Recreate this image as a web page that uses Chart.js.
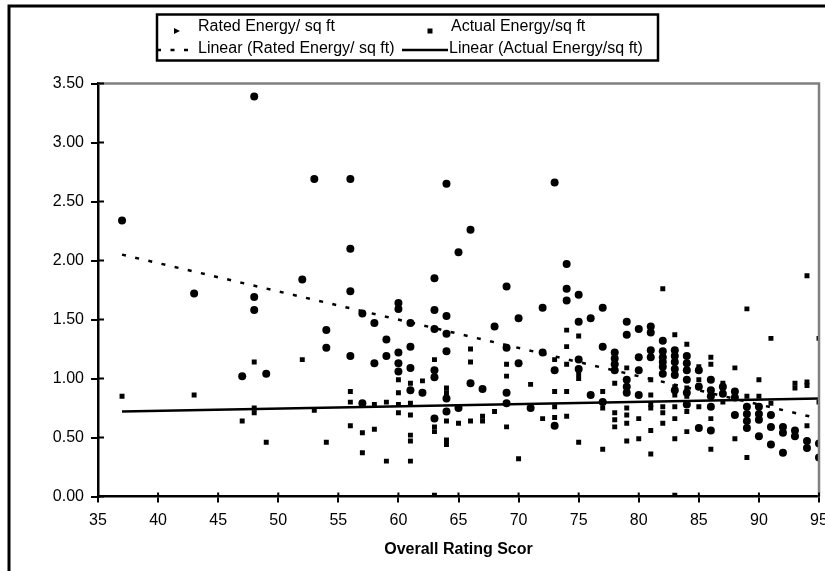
<!DOCTYPE html>
<html>
<head>
<meta charset="utf-8">
<title>Energy vs Overall Rating</title>
<script src="https://cdn.jsdelivr.net/npm/chart.js@4.4.1/dist/chart.umd.min.js"></script>
<style>
  html, body { margin: 0; padding: 0; background: #fff; }
  #wrap { width: 825px; height: 571px; position: relative; }
</style>
</head>
<body>
<div id="wrap"><canvas id="energyChart"></canvas></div>
<script>
// --- data ---
const ratedScore = [
  37, 43, 47, 48, 48, 48, 49, 52, 53, 54, 54,
  56, 56, 56, 56, 57, 57, 58, 58, 59, 59,
  60, 60, 60, 60, 60, 61, 61, 61, 61, 62,
  63, 63, 63, 63, 63, 63, 64, 64, 64, 64, 64, 64,
  65, 65, 66, 66, 67, 68, 69, 69, 69, 69, 70, 70, 71,
  72, 72, 73, 73, 73, 74, 74, 74, 75, 75, 75, 75,
  76, 76, 77, 77, 77, 78, 78, 78, 78,
  79, 79, 79, 79, 79, 80, 80, 80, 80, 81, 81, 81, 81,
  82, 82, 82, 82, 82, 82, 83, 83, 83, 83, 83, 83,
  84, 84, 84, 84, 84, 84, 85, 85, 85, 86, 86, 86, 86, 86,
  87, 87, 88, 88, 88, 89, 89, 89, 89, 90, 90, 90, 90,
  91, 91, 91, 92, 92, 92, 93, 93, 94, 94, 95, 95
];
const ratedEnergy = [
  2.34, 1.72, 1.02, 3.39, 1.69, 1.58, 1.04, 1.84, 2.69, 1.41, 1.26,
  2.69, 2.10, 1.74, 1.19, 1.55, 0.79, 1.47, 1.13, 1.33, 1.19,
  1.64, 1.59, 1.22, 1.13, 1.06, 1.47, 1.27, 1.09, 0.90, 0.88,
  1.85, 1.58, 1.42, 1.07, 1.01, 0.66, 2.65, 1.53, 1.38, 1.23, 0.83, 0.72,
  2.07, 0.75, 2.26, 0.96, 0.91, 1.44, 1.78, 1.26, 0.88, 0.79, 1.51, 1.13, 0.75,
  1.60, 1.22, 2.66, 1.07, 0.60, 1.97, 1.76, 1.66, 1.71, 1.48, 1.16, 1.08,
  1.51, 0.86, 1.60, 1.27, 0.80, 1.22, 1.17, 1.12, 1.07,
  1.48, 1.37, 0.99, 0.93, 0.88, 1.42, 1.18, 1.07, 0.86, 1.44, 1.39, 1.24, 1.18,
  1.32, 1.23, 1.18, 1.14, 1.10, 1.04, 1.24, 1.19, 1.14, 1.08, 1.03, 0.90,
  1.19, 1.13, 1.07, 0.99, 0.88, 0.78, 1.07, 0.93, 0.58, 0.99, 0.90, 0.85, 0.76, 0.56,
  0.93, 0.87, 0.89, 0.84, 0.69, 0.76, 0.70, 0.64, 0.58, 0.76, 0.70, 0.65, 0.51,
  0.69, 0.59, 0.44, 0.59, 0.54, 0.37, 0.56, 0.51, 0.47, 0.41, 0.45, 0.33
];

const actualScore = [
  37, 43, 47, 48, 48, 48, 49, 52, 53, 54,
  56, 56, 56, 57, 57, 58, 58, 59, 59,
  60, 60, 60, 60, 61, 61, 61, 61, 61, 61, 62,
  63, 63, 63, 63, 63, 64, 64, 64, 64, 64, 65,
  66, 66, 66, 67, 67, 68, 69, 69, 69, 70, 71, 72,
  73, 73, 73, 73, 74, 74, 74, 74, 74, 75, 75, 75, 75,
  77, 77, 77, 78, 78, 78, 78, 79, 79, 79, 79, 79, 80, 80,
  81, 81, 81, 81, 81, 81, 82, 82, 82, 82,
  83, 83, 83, 83, 83, 83, 83, 84, 84, 84, 84, 84,
  85, 85, 85, 85, 86, 86, 86, 86, 87, 87, 87, 88, 88,
  89, 89, 89, 90, 90, 91, 91, 93, 93, 94, 94, 94, 94, 95, 95
];
const actualEnergy = [
  0.85, 0.86, 0.64, 1.14, 0.75, 0.71, 0.46, 1.16, 0.73, 0.46,
  0.89, 0.80, 0.60, 0.54, 0.37, 0.78, 0.57, 0.80, 0.30,
  0.99, 0.88, 0.78, 0.71, 0.96, 0.79, 0.69, 0.52, 0.47, 0.30, 0.98,
  1.16, 1.02, 0.59, 0.55, 0.01, 0.92, 0.88, 0.64, 0.48, 0.44, 0.62,
  1.25, 1.14, 0.64, 0.68, 0.64, 0.72, 1.12, 1.02, 0.59, 0.32, 0.95, 0.66,
  1.16, 0.89, 0.76, 0.67, 1.41, 1.27, 1.12, 0.89, 0.68, 1.36, 1.04, 1.00, 0.46,
  0.89, 0.75, 0.40, 0.96, 0.71, 0.65, 0.59, 1.09, 0.75, 0.69, 0.62, 0.47, 0.66, 0.49,
  0.99, 0.86, 0.78, 0.75, 0.56, 0.36, 1.76, 0.76, 0.71, 0.62,
  1.37, 0.93, 0.86, 0.76, 0.66, 0.49, 0.01, 1.29, 0.92, 0.85, 0.72, 0.55,
  1.10, 0.99, 0.94, 0.76, 1.18, 1.12, 0.66, 0.40, 0.96, 0.89, 0.80, 1.09, 0.49,
  1.59, 0.85, 0.33, 0.99, 0.85, 1.34, 0.79, 0.96, 0.92, 1.87, 0.97, 0.94, 0.60, 1.34, 0.80
];

// linear trend lines (end points as drawn in the picture)
const trendScore = [37, 95];
const ratedTrend = [2.05, 0.66];
const actualTrend = [0.72, 0.83];

const xTicks = [35, 40, 45, 50, 55, 60, 65, 70, 75, 80, 85, 90, 95];
const yTicks = [0, 0.5, 1, 1.5, 2, 2.5, 3, 3.5];

const pairs = (xs, ys) => xs.map((x, i) => ({ x, y: ys[i] }));

Chart.defaults.font.family = '"Liberation Sans", Arial, sans-serif';
Chart.defaults.color = '#000';

// --- frame, cross ticks, grey plot border and boxed legend ---
const excelLook = {
  id: 'excelLook',
  beforeDraw(chart) {
    const ctx = chart.ctx;
    ctx.save();
    ctx.fillStyle = '#fff';
    ctx.fillRect(0, 0, chart.width, chart.height);
    ctx.restore();
  },
  afterDraw(chart) {
    const { ctx, chartArea: a, scales } = chart;
    ctx.save();

    // grey top / right edge of the plot area
    ctx.strokeStyle = '#808080';
    ctx.lineWidth = 2.5;
    ctx.beginPath();
    ctx.moveTo(a.left, a.top);
    ctx.lineTo(a.right, a.top);
    ctx.lineTo(a.right, a.bottom);
    ctx.stroke();

    // inner half of the cross ticks
    ctx.strokeStyle = '#000';
    ctx.lineWidth = 2;
    ctx.beginPath();
    yTicks.forEach(v => {
      const py = scales.y.getPixelForValue(v);
      ctx.moveTo(a.left, py);
      ctx.lineTo(a.left + 6, py);
    });
    xTicks.forEach(v => {
      const px = scales.x.getPixelForValue(v);
      ctx.moveTo(px, a.bottom);
      ctx.lineTo(px, a.bottom - 4);
    });
    ctx.stroke();

    // outer chart frame (only top and left visible)
    ctx.lineWidth = 3;
    ctx.beginPath();
    ctx.moveTo(9, chart.height);
    ctx.lineTo(9, 6);
    ctx.lineTo(chart.width, 6);
    ctx.stroke();

    // legend box
    const ds = chart.data.datasets;
    ctx.lineWidth = 2.5;
    ctx.strokeRect(157, 14.5, 501, 46);

    ctx.font = '16px "Liberation Sans", Arial, sans-serif';
    ctx.fillStyle = '#000';
    ctx.textBaseline = 'middle';
    ctx.textAlign = 'left';

    // rated marker (small right-pointing triangle)
    ctx.beginPath();
    ctx.moveTo(174, 28);
    ctx.lineTo(180, 31);
    ctx.lineTo(174, 34);
    ctx.closePath();
    ctx.fill();
    ctx.fillText(ds[2].label, 198, 27);

    // actual marker (small square)
    ctx.fillRect(427.5, 28.5, 5, 5);
    ctx.fillText(ds[3].label, 451, 27);

    // dashed rated trend sample
    ctx.lineWidth = 2.5;
    ctx.setLineDash(ds[0].borderDash);
    ctx.beginPath();
    ctx.moveTo(157, 50);
    ctx.lineTo(195, 50);
    ctx.stroke();
    ctx.setLineDash([]);
    ctx.fillText(ds[0].label, 198, 49);

    // solid actual trend sample
    ctx.beginPath();
    ctx.moveTo(402, 50);
    ctx.lineTo(448, 50);
    ctx.stroke();
    ctx.fillText(ds[1].label, 449, 49);

    ctx.restore();
  }
};

new Chart(document.getElementById('energyChart'), {
  type: 'scatter',
  data: {
    datasets: [
      {
        label: 'Linear (Rated Energy/ sq ft)',
        data: pairs(trendScore, ratedTrend),
        showLine: true,
        borderColor: '#000',
        borderWidth: 2.5,
        borderDash: [4, 9.5],
        pointRadius: 0,
        clip: 0
      },
      {
        label: 'Linear (Actual Energy/sq ft)',
        data: pairs(trendScore, actualTrend),
        showLine: true,
        borderColor: '#000',
        borderWidth: 2.5,
        pointRadius: 0,
        clip: 0
      },
      {
        label: 'Rated Energy/ sq ft',
        data: pairs(ratedScore, ratedEnergy),
        pointStyle: 'circle',
        pointRadius: 4,
        pointHoverRadius: 4,
        backgroundColor: '#000',
        borderWidth: 0,
        clip: 0
      },
      {
        label: 'Actual Energy/sq ft',
        data: pairs(actualScore, actualEnergy),
        pointStyle: 'rect',
        pointRadius: 3.5,
        pointHoverRadius: 3.5,
        backgroundColor: '#000',
        borderWidth: 0,
        clip: 0
      }
    ]
  },
  options: {
    responsive: true,
    maintainAspectRatio: false,
    animation: false,
    events: [],
    layout: { padding: { left: 10, right: 6, top: 83.5, bottom: 10 } },
    plugins: {
      legend: { display: false },
      tooltip: { enabled: false }
    },
    scales: {
      x: {
        type: 'linear',
        min: 35,
        max: 95,
        afterBuildTicks: s => { s.ticks = xTicks.map(v => ({ value: v })); },
        afterFit: s => { s.height = 64.5; s.paddingLeft = 0; s.paddingRight = 0; },
        ticks: {
          font: { size: 16 },
          padding: 8,
          maxRotation: 0,
          callback: v => String(v)
        },
        grid: {
          drawOnChartArea: false,
          drawTicks: true,
          tickLength: 6,
          color: '#000',
          lineWidth: 2
        },
        border: { display: true, color: '#000', width: 2.5 },
        title: {
          display: true,
          text: 'Overall Rating Scor',
          font: { size: 16, weight: 'bold' },
          padding: { top: 6, bottom: 2 }
        }
      },
      y: {
        min: 0,
        max: 3.5,
        afterBuildTicks: s => { s.ticks = yTicks.map(v => ({ value: v })); },
        afterFit: s => { s.width = 88; },
        ticks: {
          font: { size: 16 },
          padding: 7,
          callback: v => v.toFixed(2)
        },
        grid: {
          drawOnChartArea: false,
          drawTicks: true,
          tickLength: 7,
          color: '#000',
          lineWidth: 2
        },
        border: { display: true, color: '#000', width: 2.5 }
      }
    }
  },
  plugins: [excelLook]
});
</script>
</body>
</html>
